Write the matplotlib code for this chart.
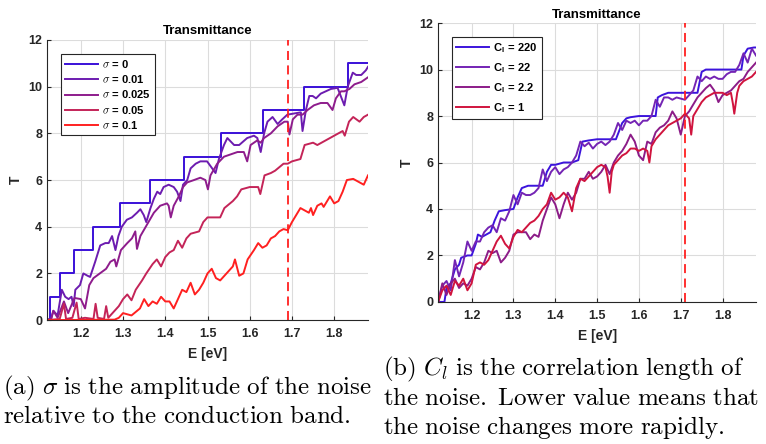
import numpy as np
import matplotlib
matplotlib.use("Agg")
import matplotlib.pyplot as plt

plt.rcParams["font.family"] = ["Liberation Sans", "DejaVu Sans"]
plt.rcParams["mathtext.fontset"] = "cm"

# ---------- panel (a): noise amplitude ----------
step_E = [1.12, 1.127, 1.151, 1.184, 1.230, 1.293, 1.364, 1.445, 1.532, 1.631, 1.728, 1.832, 1.88]
step_T = [0, 1, 2, 3, 4, 5, 6, 7, 8, 9, 10, 11, 11]

s01_E = [1.12, 1.13, 1.135, 1.145, 1.155, 1.163, 1.171, 1.178, 1.183, 1.187, 1.198, 1.206, 1.216,
         1.222, 1.234, 1.246, 1.258, 1.266, 1.274, 1.282, 1.289, 1.297, 1.309, 1.321, 1.333,
         1.341, 1.349, 1.355, 1.365, 1.373, 1.381, 1.388, 1.396, 1.408, 1.420, 1.428, 1.436,
         1.442, 1.452, 1.460, 1.472, 1.483, 1.499, 1.507, 1.519, 1.527, 1.539, 1.547, 1.563,
         1.575, 1.594, 1.610, 1.618, 1.626, 1.634, 1.642, 1.654, 1.666, 1.677, 1.689, 1.705,
         1.721, 1.725, 1.733, 1.741, 1.749, 1.757, 1.768, 1.780, 1.792, 1.808, 1.824, 1.832,
         1.844, 1.852, 1.864, 1.875, 1.88]
s01_T = [0, 0.1, 0.4, 0.2, 1.3, 1.0, 0.9, 1.0, 0.6, 1.3, 1.5, 2.0, 1.9,
         1.85, 2.5, 3.2, 3.3, 3.3, 3.6, 3.0, 3.6, 4.0, 4.3, 4.4, 4.6,
         4.75, 4.5, 4.2, 4.8, 5.2, 5.5, 5.4, 5.7, 5.8, 5.7, 5.5, 5.1,
         5.8, 6.0, 6.5, 6.7, 6.8, 6.8, 6.6, 6.3, 6.9, 7.5, 7.8, 7.5,
         7.5, 7.8, 7.9, 7.8, 7.2, 8.0, 8.5, 8.7, 8.4, 8.6, 8.8, 8.85,
         8.9, 8.1, 9.0, 9.6, 9.6, 9.5, 9.7, 9.8, 9.9, 9.95, 9.2, 10.0,
         10.6, 10.5, 10.5, 10.7, 10.85]

s025_E = [1.12, 1.13, 1.135, 1.145, 1.16, 1.17, 1.185, 1.20, 1.21, 1.22, 1.23, 1.245, 1.26,
          1.27, 1.28, 1.284, 1.295, 1.31, 1.321, 1.329, 1.333, 1.341, 1.357, 1.373, 1.388,
          1.404, 1.408, 1.413, 1.420, 1.432, 1.442, 1.452, 1.468, 1.483, 1.495, 1.501, 1.507,
          1.523, 1.539, 1.555, 1.571, 1.586, 1.594, 1.602, 1.618, 1.626, 1.634, 1.650, 1.666,
          1.682, 1.690, 1.694, 1.702, 1.713, 1.725, 1.737, 1.752, 1.768, 1.784, 1.796, 1.804,
          1.816, 1.824, 1.836, 1.848, 1.864, 1.88]
s025_T = [0, 0.05, 0.4, 0.1, 0.8, 0.3, 0.95, 0.9, 0.5, 1.5, 1.8, 2.0, 2.2,
          2.5, 2.6, 2.3, 3.0, 3.3, 3.5, 3.8, 3.05, 3.6, 4.1, 4.6, 4.9,
          5.0, 4.9, 4.4, 4.9, 5.3, 5.7, 5.9, 6.0, 6.1, 6.0, 5.6, 6.2,
          6.7, 7.0, 7.1, 7.2, 7.2, 6.8, 7.5, 7.7, 7.6, 7.8, 8.0, 8.3,
          8.5, 8.5, 7.95, 8.6, 8.8, 8.8, 9.0, 9.2, 9.3, 9.3, 9.0, 9.5,
          9.8, 9.8, 9.9, 10.1, 10.2, 10.4]

s05_E = [1.12, 1.15, 1.16, 1.165, 1.18, 1.19, 1.195, 1.21, 1.23, 1.235, 1.24, 1.255, 1.26, 1.265,
         1.28, 1.29, 1.30, 1.31, 1.32, 1.33, 1.345, 1.355, 1.37, 1.38, 1.39, 1.40, 1.41,
         1.42, 1.43, 1.44, 1.45, 1.46, 1.48, 1.49, 1.50, 1.52, 1.53, 1.54, 1.56, 1.57,
         1.58, 1.60, 1.62, 1.625, 1.635, 1.65, 1.66, 1.68, 1.69, 1.70, 1.72, 1.73, 1.75,
         1.76, 1.78, 1.80, 1.82, 1.825, 1.835, 1.845, 1.86, 1.87, 1.88]
s05_T = [0, 0.05, 0.7, 0.05, 0.1, 0.75, 0.05, 0.1, 0.05, 0.7, 0.1, 0.05, 0.6, 0.1,
         0.4, 0.6, 0.9, 1.1, 0.85, 1.3, 1.7, 2.0, 2.4, 2.6, 2.3, 2.7, 2.9,
         3.0, 3.4, 3.1, 3.5, 3.7, 3.8, 4.2, 4.4, 4.4, 4.4, 4.8, 5.1, 5.3,
         5.6, 5.7, 5.7, 5.4, 6.2, 6.3, 6.4, 6.7, 6.7, 6.8, 6.9, 7.5, 7.6,
         7.5, 7.7, 7.9, 8.1, 7.9, 8.5, 8.7, 8.5, 8.7, 8.8]

s1_E = [1.12, 1.28, 1.29, 1.30, 1.32, 1.34, 1.35, 1.36, 1.37, 1.38, 1.39, 1.40, 1.41, 1.42,
        1.43, 1.44, 1.45, 1.46, 1.47, 1.48, 1.49, 1.50, 1.51, 1.52, 1.53, 1.54, 1.55, 1.56,
        1.565, 1.575, 1.585, 1.595, 1.61, 1.62, 1.63, 1.64, 1.65, 1.66, 1.67, 1.68, 1.69,
        1.70, 1.71, 1.72, 1.73, 1.74, 1.745, 1.75, 1.76, 1.77, 1.775, 1.79, 1.80, 1.81,
        1.82, 1.83, 1.845, 1.86, 1.87, 1.88]
s1_T = [0, 0.02, 0.1, 0.3, 0.2, 0.5, 0.9, 0.6, 0.8, 0.7, 1.0, 0.8, 0.8, 0.5,
        0.9, 1.3, 1.2, 1.6, 1.1, 1.3, 1.6, 2.0, 2.2, 1.8, 1.7, 1.9, 2.1, 2.3,
        2.6, 1.9, 2.0, 2.6, 3.0, 3.3, 3.1, 3.2, 3.5, 3.6, 3.8, 3.9, 3.85,
        4.2, 4.5, 4.8, 4.7, 4.6, 4.8, 4.5, 4.9, 5.0, 4.85, 5.3, 5.0, 5.1,
        5.5, 6.0, 6.05, 5.9, 5.8, 6.2]

# ---------- panel (b): correlation length ----------
c220_E = [1.12, 1.135, 1.14, 1.15, 1.16, 1.17, 1.175, 1.19, 1.20, 1.21, 1.215, 1.225, 1.235,
          1.245, 1.255, 1.265, 1.28, 1.30, 1.31, 1.32, 1.335, 1.35, 1.37, 1.38, 1.39, 1.40,
          1.42, 1.44, 1.455, 1.465, 1.48, 1.50, 1.53, 1.545, 1.56, 1.57, 1.58, 1.60, 1.64,
          1.645, 1.655, 1.67, 1.70, 1.74, 1.75, 1.76, 1.80, 1.845, 1.85, 1.86, 1.875, 1.88]
c220_T = [0, 0.0, 0.6, 0.8, 1.4, 1.6, 1.9, 2.0, 2.0, 2.5, 2.9, 2.8, 2.9,
          3.0, 3.5, 3.9, 3.95, 4.0, 4.5, 4.9, 5.0, 5.0, 5.0, 5.6, 5.9, 5.9,
          6.0, 6.0, 6.1, 6.9, 6.95, 7.0, 7.0, 7.0, 7.7, 7.9, 7.95, 8.0, 8.0,
          8.8, 8.9, 9.0, 9.0, 9.0, 9.9, 10.0, 10.0, 10.0, 10.6, 10.9, 10.95, 10.95]

c_E = [1.12, 1.13, 1.14, 1.15, 1.16, 1.17, 1.18, 1.19, 1.20, 1.21, 1.22, 1.23, 1.24, 1.25,
       1.26, 1.27, 1.28, 1.29, 1.30, 1.31, 1.32, 1.33, 1.34, 1.35, 1.36, 1.37, 1.38, 1.39,
       1.40, 1.41, 1.42, 1.43, 1.44, 1.45, 1.46, 1.47, 1.48, 1.49, 1.50, 1.51, 1.52, 1.53,
       1.54, 1.55, 1.56, 1.57, 1.58, 1.59, 1.60, 1.61, 1.62, 1.63, 1.64, 1.65, 1.66, 1.67,
       1.68, 1.69, 1.70, 1.71, 1.72, 1.73, 1.74, 1.75, 1.76, 1.77, 1.78, 1.79, 1.80, 1.81,
       1.82, 1.83, 1.84, 1.85, 1.86, 1.87, 1.88]
c22_T = [0, 0.7, 0.9, 0.5, 1.8, 1.1, 1.7, 2.6, 2.2, 2.6, 2.6, 3.0, 3.2, 3.3,
         3.0, 3.6, 3.5, 3.9, 4.6, 4.2, 4.7, 4.6, 4.6, 4.7, 4.9, 5.7, 5.2, 5.6,
         5.8, 5.5, 5.7, 5.8, 6.0, 6.3, 6.9, 6.7, 6.85, 6.6, 6.8, 6.9, 6.75, 6.9,
         7.2, 7.7, 7.4, 7.8, 7.7, 7.8, 7.6, 7.8, 7.8, 8.0, 8.7, 8.4, 8.8, 8.8,
         8.7, 8.8, 8.75, 8.7, 8.9, 9.1, 9.7, 9.5, 9.7, 9.6, 9.7, 9.6, 9.6, 9.8,
         9.9, 9.9, 10.2, 10.7, 10.3, 10.9, 10.6]
c2_T = [0, 0.8, 0.3, 0.8, 1.0, 0.6, 0.8, 0.7, 1.0, 1.5, 1.4, 1.7, 2.2, 2.1,
        2.2, 1.7, 1.9, 2.2, 2.9, 3.0, 3.0, 3.0, 2.7, 2.9, 2.8, 3.5, 4.0, 4.5,
        4.2, 3.6, 4.2, 4.7, 4.4, 4.7, 5.3, 5.3, 5.6, 5.3, 5.4, 5.6, 5.9, 5.5,
        6.0, 6.3, 6.5, 6.8, 7.2, 6.9, 6.3, 6.1, 6.9, 6.8, 7.3, 7.5, 7.6, 7.8,
        8.2, 7.9, 7.2, 8.0, 8.2, 8.5, 8.8, 9.0, 9.2, 9.35, 9.1, 8.6, 8.9, 9.0,
        9.1, 9.3, 9.5, 9.6, 9.9, 10.1, 10.3]

c1_E = [1.12, 1.13, 1.14, 1.15, 1.16, 1.17, 1.18, 1.19, 1.20, 1.21, 1.22, 1.23, 1.24, 1.25,
        1.26, 1.27, 1.28, 1.29, 1.30, 1.31, 1.32, 1.33, 1.34, 1.35, 1.36, 1.37, 1.38, 1.39,
        1.40, 1.41, 1.42, 1.43, 1.44, 1.45, 1.46, 1.47, 1.48, 1.49, 1.50, 1.51, 1.52, 1.525,
        1.53, 1.535, 1.54, 1.55, 1.56, 1.57, 1.58, 1.59, 1.60, 1.61, 1.62, 1.625, 1.63, 1.64,
        1.65, 1.66, 1.67, 1.68, 1.69, 1.70, 1.71, 1.72, 1.725, 1.73, 1.74, 1.75, 1.76, 1.77,
        1.78, 1.79, 1.80, 1.81, 1.82, 1.825, 1.828, 1.835, 1.84, 1.85, 1.86, 1.87, 1.88]
c1_T = [0, 0.5, 0.7, 0.3, 0.9, 0.7, 1.0, 0.5, 0.8, 1.6, 1.7, 1.6, 1.8, 2.2,
        2.6, 2.85, 2.5, 2.3, 2.8, 3.1, 3.0, 3.2, 3.4, 3.5, 3.7, 4.0, 4.2, 4.7,
        4.4, 4.5, 4.7, 4.5, 3.9, 4.9, 5.3, 5.2, 5.4, 5.6, 5.8, 5.9, 5.8, 5.4,
        4.7, 5.6, 5.9, 6.1, 6.3, 6.4, 6.6, 6.6, 6.5, 6.6, 6.5, 6.0, 6.7, 7.0,
        7.2, 7.4, 7.6, 7.7, 7.8, 7.9, 8.1, 7.9, 7.2, 8.0, 8.3, 8.6, 8.8, 8.9,
        9.0, 9.0, 9.0, 8.9, 9.0, 8.5, 8.1, 9.0, 9.3, 9.5, 9.6, 9.7, 9.9]

sigma_labels = ["0", "0.01", "0.025", "0.05", "0.1"]
sigma_colors = ["#3a10d8", "#6c1cb0", "#8e1c8c", "#c42458", "#ff2020"]
cl_labels = ["220", "22", "2.2", "1"]
cl_colors = ["#3c14dc", "#7424b4", "#8c1c88", "#d0143e"]

grey = "#262626"


def style_axes(ax):
    ax.set_xlim(1.12, 1.88)
    ax.set_ylim(0, 12)
    ax.set_xticks([1.2, 1.3, 1.4, 1.5, 1.6, 1.7, 1.8])
    ax.set_yticks([0, 2, 4, 6, 8, 10, 12])
    ax.grid(True, color="#dcdcdc", linewidth=0.8)
    ax.set_axisbelow(True)
    for side in ["top", "right"]:
        ax.spines[side].set_visible(False)
    for side in ["left", "bottom"]:
        ax.spines[side].set_color(grey)
        ax.spines[side].set_linewidth(0.8)
    ax.tick_params(direction="in", length=3, width=0.8, colors=grey, labelsize=9)
    ax.tick_params(axis="x", pad=6)
    for lab in ax.get_xticklabels() + ax.get_yticklabels():
        lab.set_fontweight("bold")
    ax.set_title("Transmittance", fontsize=9.5, fontweight="bold", color="black", pad=4)
    ax.set_ylabel("T", fontsize=10, fontweight="bold", color=grey)


fig = plt.figure(figsize=(7.66, 4.44), dpi=100)

ax1 = fig.add_axes([0.0614, 0.279, 0.419, 0.631])
lw = 1.4
ax1.plot(step_E, step_T, drawstyle="steps-post", color=sigma_colors[0], lw=lw)
ax1.plot(s01_E, s01_T, color=sigma_colors[1], lw=lw)
ax1.plot(s025_E, s025_T, color=sigma_colors[2], lw=lw)
ax1.plot(s05_E, s05_T, color=sigma_colors[3], lw=lw)
ax1.plot(s1_E, s1_T, color=sigma_colors[4], lw=lw)
ax1.axvline(1.69, color="#ff2020", lw=1.3, ls=(0, (5, 3)))
style_axes(ax1)
ax1.set_xlabel("E [eV]", fontsize=10, fontweight="bold", color=grey, labelpad=5)
leg1 = ax1.legend([r"$\sigma$ = " + s for s in sigma_labels], loc="upper left",
                  bbox_to_anchor=(0.025, 0.97), fancybox=False, framealpha=1,
                  edgecolor=grey, handlelength=3.0, handletextpad=0.4,
                  borderpad=0.35, labelspacing=0.3,
                  prop={"weight": "bold", "size": 8})
leg1.get_frame().set_linewidth(0.8)

ax2 = fig.add_axes([0.572, 0.320, 0.415, 0.628])
ax2.plot(c220_E, c220_T, color=cl_colors[0], lw=lw)
ax2.plot(c_E, c22_T, color=cl_colors[1], lw=lw)
ax2.plot(c_E, c2_T, color=cl_colors[2], lw=lw)
ax2.plot(c1_E, c1_T, color=cl_colors[3], lw=lw)
ax2.axvline(1.71, color="#ff2020", lw=1.3, ls=(0, (5, 3)))
style_axes(ax2)
ax2.set_xlabel("E [eV]", fontsize=10, fontweight="bold", color=grey, labelpad=4.5)
leg2 = ax2.legend([r"C$_\mathregular{l}$ = " + s for s in cl_labels], loc="upper left",
                  bbox_to_anchor=(0.025, 0.97), fancybox=False, framealpha=1,
                  edgecolor=grey, handlelength=3.0, handletextpad=0.4,
                  borderpad=0.35, labelspacing=0.55,
                  prop={"weight": "bold", "size": 8})
leg2.get_frame().set_linewidth(0.8)

# captions
cap = 18
fig.text(0.004, 0.125, r"$\mathrm{(a)\ }\sigma\mathrm{\ is\ the\ amplitude\ of\ the\ noise}$",
         fontsize=cap, ha="left", va="center")
fig.text(0.004, 0.063, r"$\mathrm{relative\ to\ the\ conduction\ band.}$",
         fontsize=cap, ha="left", va="center")
fig.text(0.500, 0.167, r"$\mathrm{(b)\ }C_l\mathrm{\ is\ the\ correlation\ length\ of}$",
         fontsize=cap, ha="left", va="center")
fig.text(0.500, 0.104, r"$\mathrm{the\ noise.\ Lower\ value\ means\ that}$",
         fontsize=cap, ha="left", va="center")
fig.text(0.500, 0.038, r"$\mathrm{the\ noise\ changes\ more\ rapidly.}$",
         fontsize=cap, ha="left", va="center")

fig.savefig("out.png", dpi=100)
